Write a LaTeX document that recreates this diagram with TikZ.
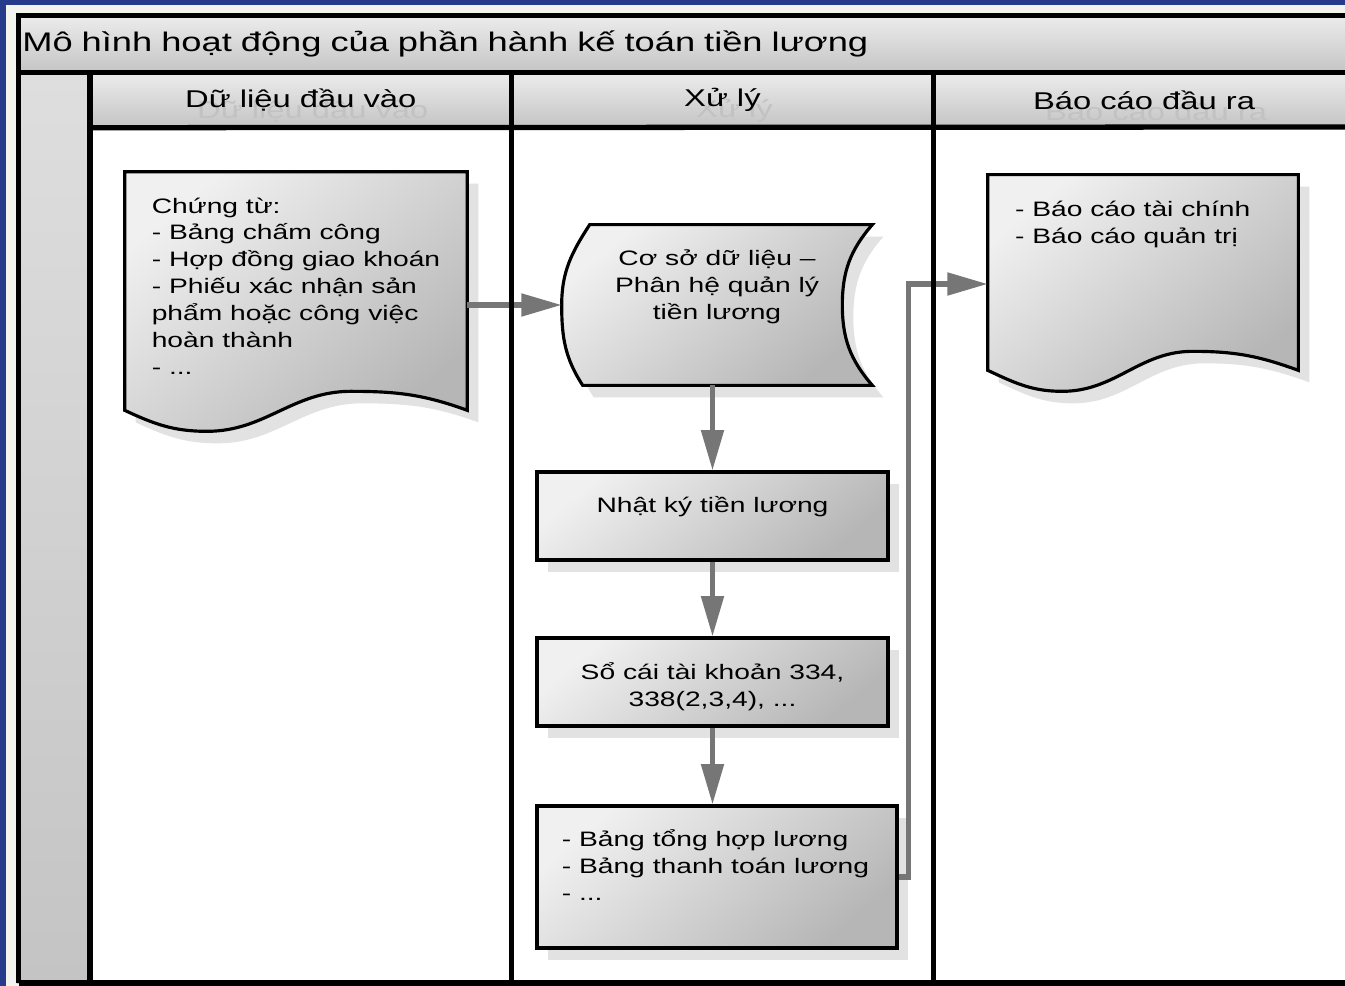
\documentclass[tikz,border=0pt]{standalone}
\usepackage{fontspec}
\setmainfont[FakeStretch=1.35]{Liberation Sans}
\usetikzlibrary{arrows.meta,positioning,calc,shadows}
\definecolor{slidebg}{RGB}{40,58,140}
\definecolor{paperbg}{RGB}{244,244,238}
\definecolor{bandlight}{RGB}{236,236,236}
\definecolor{banddark}{RGB}{196,196,196}
\definecolor{striplight}{RGB}{222,222,222}
\definecolor{stripdark}{RGB}{196,196,196}
\definecolor{shapelight}{RGB}{240,240,240}
\definecolor{shapedark}{RGB}{182,182,182}
\definecolor{shadowgray}{RGB}{226,226,226}
\definecolor{ghost}{RGB}{194,194,194}
\definecolor{flowgray}{RGB}{118,118,118}
\pgfdeclarelayer{back}
\pgfdeclarelayer{outline}
\pgfsetlayers{back,outline,main}
\newcommand{\bodyfont}{\fontsize{11.9}{15.3}\selectfont}
\newcommand{\headfont}{\fontsize{13.8}{16}\selectfont}
\newcommand{\titlefont}{\fontsize{15.3}{17}\selectfont}
\newcommand{\wavedoc}[1]{(#1.north west) -- (#1.north east) -- (#1.south east)
  to[out=160,in=0] ($(#1.south west)!0.66!(#1.south east)+(0,-19)$)
  to[out=180,in=0] ($(#1.south west)!0.24!(#1.south east)+(0,21)$)
  to[out=180,in=-25] (#1.south west) -- cycle}

\begin{document}
\begin{tikzpicture}[x=0.02cm,y=-0.02cm,font=\bodyfont,
  lane/.style={line width=3pt},
  band/.style={top color=bandlight,bottom color=banddark,inner sep=0pt},
  header/.style={band,anchor=north west,minimum width=8.42cm,minimum height=1.08cm},
  headtext/.style={font=\headfont,inner sep=0pt},
  shapefill/.style={draw,line width=1.8pt,top color=shapelight,bottom color=shapedark,shading angle=40,
    drop shadow={shadow xshift=0.22cm,shadow yshift=-0.24cm,fill=shadowgray,opacity=1}},
  box/.style={shapefill,inner sep=0pt,align=center},
  blank/.style={inner sep=0pt,align=left},
  txt/.style={inner sep=0pt,align=left},
  flow/.style={draw=flowgray,line width=3pt,-{Triangle[length=23pt,width=12.5pt]}}]
  \def\bot{983}
  % page
  \useasboundingbox (0,0) rectangle (1345,986);
  \clip (0,0) rectangle (1345,986);
  \begin{pgfonlayer}{back}
    \fill[slidebg] (0,0) rectangle (1345,986);
    \fill[paperbg] (6,5) rectangle (1360,1000);
    \fill[white] (17,73) rectangle (1360,\bot);
    % title and lane headers
    \node[band,font=\titlefont,anchor=north west,minimum width=26.96cm,minimum height=1.16cm,
          text width=26.76cm,align=left] (title) at (17,15) {Mô hình hoạt động của phần hành kế toán tiền lương};
    \fill[top color=striplight,bottom color=stripdark] (17,73) rectangle (90,\bot);
    \node[header] (in-h) at (90,73) {};
    \node[header,right=0pt of in-h] (proc-h) {};
    \node[header,right=0pt of proc-h] (out-h) {};
    \foreach \h/\t in {in-h/Dữ liệu đầu vào,proc-h/Xử lý,out-h/Báo cáo đầu ra}
      \node[headtext,text=ghost] (\h-g) at ([shift={(12,11)}]\h.center) {\t};
  \end{pgfonlayer}
  \node[headtext] (in-t) at (in-h) {Dữ liệu đầu vào};
  \node[headtext] (proc-t) at (proc-h) {Xử lý};
  \node[headtext] (out-t) at (out-h) {Báo cáo đầu ra};

  % input lane
  \node[blank,minimum width=6.84cm,minimum height=4.76cm] (input) at (296,291) {};
  \node[txt] (input-t) at ([yshift=0.1cm]input.center)
    {Chứng từ:\\- Bảng chấm công\\- Hợp đồng giao khoán\\- Phiếu xác nhận sản\\phẩm hoặc công việc\\hoàn thành\\- ...};
  \begin{pgfonlayer}{outline}
    \draw[shapefill] \wavedoc{input};
  \end{pgfonlayer}

  % processing lane
  \node[blank,minimum width=6.2cm,minimum height=3.2cm] (dbase) at (717,305) {};
  \node[txt,align=center] (dbase-t) at ([yshift=0.36cm]dbase.center) {Cơ sở dữ liệu –\\Phân hệ quản lý\\tiền lương};
  \begin{pgfonlayer}{outline}
    \draw[shapefill] ($(dbase.north west)+(28,0)$) -- (dbase.north east)
      to[out=-131,in=90] ($(dbase.east)+(-30,0)$) to[out=-90,in=131] (dbase.south east)
      -- ($(dbase.south west)+(21,0)$) to[out=123,in=-90] (dbase.west)
      to[out=90,in=-123] ($(dbase.north west)+(28,0)$) -- cycle;
  \end{pgfonlayer}
  \node[box,minimum width=7.02cm,minimum height=1.76cm] (journal) at (712.5,516) {};
  \node[txt] (journal-t) at ([yshift=0.18cm]journal.center) {Nhật ký tiền lương};
  \node[box,minimum width=7.02cm,minimum height=1.76cm] (ledger) at (712.5,682) {};
  \node[txt,align=center] (ledger-t) at ([yshift=-0.1cm]ledger.center) {Sổ cái tài khoản 334,\\338(2,3,4), ...};
  \node[box,minimum width=7.2cm,minimum height=2.84cm] (summary) at (717,877) {};
  \node[txt,below right=0.5cm and 0.52cm of summary.north west] (summary-t)
    {- Bảng tổng hợp lương\\- Bảng thanh toán lương\\- ...};

  % output lane
  \node[blank,minimum width=6.2cm,minimum height=3.9cm] (report) at (1143,272.5) {};
  \begin{pgfonlayer}{outline}
    \draw[shapefill] \wavedoc{report};
  \end{pgfonlayer}
  \node[txt,below right=0.52cm and 0.54cm of report.north west] (report-t)
    {- Báo cáo tài chính\\- Báo cáo quản trị};

  % flows
  \draw[flow] (input.east |- dbase.west) -- (dbase.west);
  \draw[flow] (journal.north |- dbase.south) -- (journal.north);
  \draw[flow] (journal.south) -- (ledger.north);
  \draw[flow] (ledger.south) -- (ledger.south |- summary.north);
  \draw[flow] (summary.east) -- ++(10,0) |- ([yshift=-0.23cm]report.west);

  % frame
  \draw[lane] (18.5,\bot) |- (1360,15.5);
  \draw[lane] (18.5,72.5) -- (1360,72.5);
  \draw[lane] (in-h.south west) -- (1360,127);
  \draw[lane] (18.5,\bot) -- (1360,\bot);
  \foreach \h in {in-h,proc-h,out-h}
    \draw[lane] (\h.north west) -- (\h.north west |- 0,\bot);
\end{tikzpicture}
\end{document}
